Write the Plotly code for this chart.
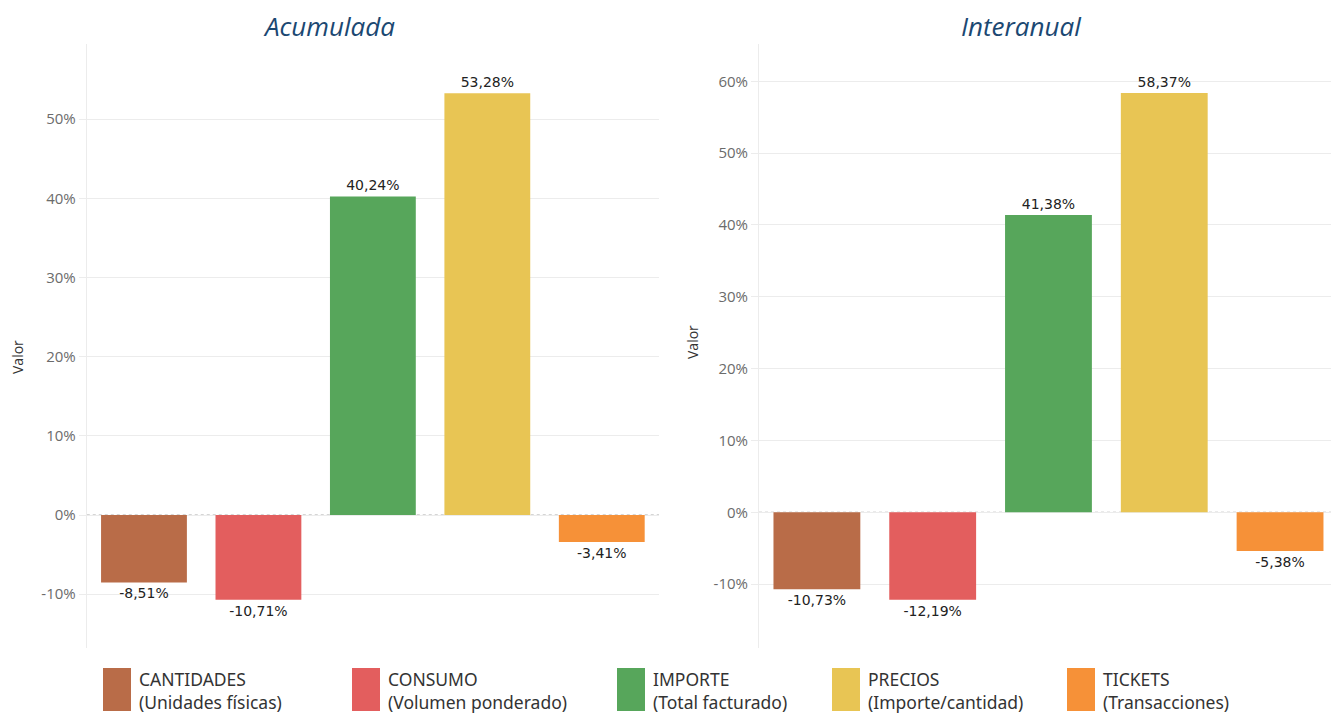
import plotly.graph_objects as go

categories = ["CANTIDADES", "CONSUMO", "IMPORTE", "PRECIOS", "TICKETS"]
subtitles = ["(Unidades físicas)", "(Volumen ponderado)", "(Total facturado)",
             "(Importe/cantidad)", "(Transacciones)"]
acumulada = [-8.51, -10.71, 40.24, 53.28, -3.41]
interanual = [-10.73, -12.19, 41.38, 58.37, -5.38]
colors = ["#b96c48", "#e35e5e", "#57a65b", "#e8c554", "#f69138"]
left_ticks = [-10, 0, 10, 20, 30, 40, 50]
right_ticks = [-10, 0, 10, 20, 30, 40, 50, 60]

W, H = 1331, 714


def px(x):
    return x / W


def py(y):
    return (H - y) / H


def fmt(v):
    return f"{v:.2f}%".replace(".", ",")


fig = go.Figure()

for vals, xa, ya in [(acumulada, "x", "y"), (interanual, "x2", "y2")]:
    fig.add_trace(go.Bar(
        x=list(range(len(categories))), y=vals,
        marker=dict(color=colors, line=dict(width=0)),
        text=[fmt(v) for v in vals], textposition="outside",
        textfont=dict(family="DejaVu Sans", size=14, color="#222222"),
        cliponaxis=False, showlegend=False, hoverinfo="skip",
        xaxis=xa, yaxis=ya, width=0.75,
    ))

ydom = [py(648), py(44)]
axis_common = dict(showgrid=True, gridcolor="#ececec", gridwidth=1,
                   zeroline=False, showline=True, linecolor="#ececec",
                   ticks="outside", ticklen=7, tickcolor="#ececec",
                   tickfont=dict(family="Open Sans", size=15, color="#6b6b6b"))

fig.update_layout(
    width=W, height=H, margin=dict(l=0, r=0, t=0, b=0),
    plot_bgcolor="white", paper_bgcolor="white", bargap=0.25,
    xaxis=dict(domain=[px(86.75), px(659)], range=[-0.5, 4.5], showticklabels=False,
               showgrid=False, zeroline=False, ticks=""),
    xaxis2=dict(domain=[px(759), 1.0], range=[-0.5, 4.44], showticklabels=False,
                showgrid=False, zeroline=False, ticks=""),
    yaxis=dict(domain=ydom, range=[-16.8, 59.5], tickvals=left_ticks,
               ticktext=[f"{t}%" for t in left_ticks], anchor="x", **axis_common),
    yaxis2=dict(domain=ydom, range=[-18.9, 65.2], tickvals=right_ticks,
                ticktext=[f"{t}%" for t in right_ticks], anchor="x2", **axis_common),
)

# dotted zero lines
for xr, yr in [("x domain", "y"), ("x2 domain", "y2")]:
    fig.add_shape(type="line", xref=xr, yref=yr, x0=0, x1=1, y0=0, y1=0,
                  line=dict(color="#aaaaaa", width=1, dash="dot"), layer="below")

# titles
for text, xc in [("Acumulada", 329), ("Interanual", 1021)]:
    fig.add_annotation(text=f"<i>{text}</i>", x=px(xc), y=py(26), xref="paper", yref="paper",
                       showarrow=False, xanchor="center", yanchor="middle",
                       font=dict(family="Open Sans", size=26, color="#1b4872"))

# y axis titles
for xc, yc in [(17, 357), (692, 342)]:
    fig.add_annotation(text="Valor", x=px(xc), y=py(yc), xref="paper", yref="paper",
                       showarrow=False, textangle=-90, xanchor="center", yanchor="middle",
                       font=dict(family="Open Sans", size=14, color="#333333"))

# custom legend
swatch_x = [103, 352, 617, 832, 1067]
for i, cat in enumerate(categories):
    x0 = swatch_x[i]
    fig.add_shape(type="rect", xref="paper", yref="paper",
                  x0=px(x0), x1=px(x0 + 28), y0=py(711), y1=py(668),
                  fillcolor=colors[i], line=dict(width=0))
    fig.add_annotation(text=f"{cat}<br>{subtitles[i]}", x=px(x0 + 34), y=py(690),
                       xref="paper", yref="paper", showarrow=False, align="left",
                       xanchor="left", yanchor="middle",
                       font=dict(family="Noto Sans", size=17.5, color="#333333"))

fig.write_html("out.html", config={"displayModeBar": False},
               post_script="document.body.style.margin='0';")
